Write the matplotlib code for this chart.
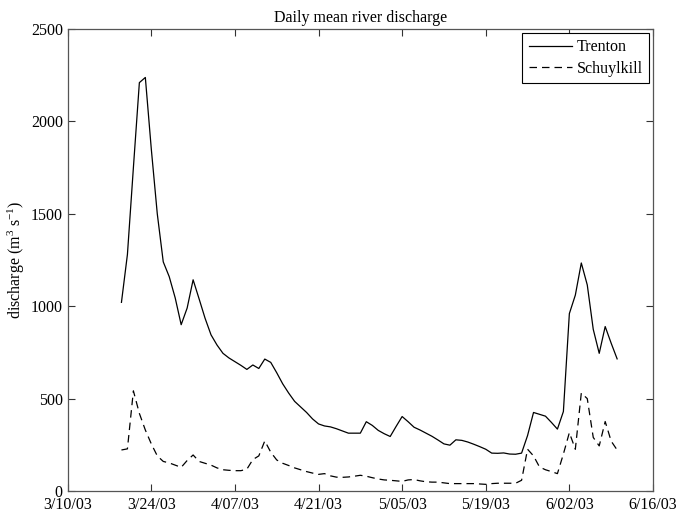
import matplotlib
matplotlib.use("Agg")
import matplotlib.pyplot as plt
import matplotlib.dates as mdates
from matplotlib.ticker import FuncFormatter
import datetime as dt

# daily values, 3/19/03 .. 6/10/03
start = dt.date(2003, 3, 19)
trenton = [1021, 1280, 1750, 2210, 2238, 1850, 1500, 1240, 1160, 1045,
           900, 990, 1143, 1040, 935, 845, 790, 745, 720, 700,
           680, 658, 682, 663, 714, 696, 640, 580, 530, 485,
           455, 425, 390, 363, 352, 347, 337, 325, 313, 313,
           313, 375, 355, 328, 310, 295, 350, 403, 375, 345,
           330, 313, 296, 276, 255, 248, 277, 274, 265, 253,
           240, 226, 205, 204, 206, 200, 199, 205, 300, 425,
           415, 405, 371, 335, 430, 960, 1060, 1234, 1115, 875,
           745, 890, 800, 715]
schuylkill = [222, 228, 542, 420, 330, 255, 190, 160, 152, 140,
              128, 165, 195, 160, 150, 140, 125, 115, 112, 110,
              110, 118, 170, 190, 271, 210, 168, 150, 138, 125,
              115, 105, 97, 90, 94, 82, 75, 74, 76, 80,
              85, 80, 72, 65, 60, 58, 55, 52, 60, 62,
              55, 50, 48, 48, 44, 40, 40, 40, 40, 40,
              38, 36, 40, 42, 42, 42, 42, 58, 226, 190,
              130, 115, 105, 94, 200, 316, 226, 530, 500, 290,
              244, 376, 270, 222]
dates = [start + dt.timedelta(days=i) for i in range(len(trenton))]
tick_dates = [dt.date(2003, 3, 10) + dt.timedelta(days=14 * i) for i in range(8)]

plt.rcParams["font.family"] = "Liberation Serif"
plt.rcParams["mathtext.fontset"] = "custom"
plt.rcParams["mathtext.rm"] = "Liberation Serif"
plt.rcParams["mathtext.it"] = "Liberation Serif"

fig = plt.figure(figsize=(6.77, 5.15), dpi=100)
ax = fig.add_axes([0.1, 0.0466, 0.8645, 0.897])

ax.plot(dates, trenton, "k-", lw=0.9, label="Trenton")
ax.plot(dates, schuylkill, "k--", lw=0.9, dashes=(6, 4), label="Schuylkill")

ax.set_xlim(tick_dates[0], tick_dates[-1])
ax.set_ylim(0, 2500)
ax.set_xticks(tick_dates)
ax.xaxis.set_major_formatter(FuncFormatter(
    lambda v, p: "{d.month}/{d.day:02d}/{d:%y}".format(d=mdates.num2date(v))))
ax.set_yticks([0, 500, 1000, 1500, 2000, 2500])

ax.tick_params(direction="in", top=True, right=True, length=5, width=0.8,
               labelsize=11.5, colors="#333333", labelcolor="black")
ax.tick_params(axis="x", pad=4)
for s in ax.spines.values():
    s.set_color("#555555")
    s.set_linewidth(0.9)

ax.set_title("Daily mean river discharge", fontsize=11.5, pad=5)
ax.set_ylabel("discharge (m$^{3}$ s$^{-1}$)", fontsize=11.5, labelpad=3)

leg = ax.legend(loc="upper right", fontsize=11.5, fancybox=False,
                edgecolor="black", framealpha=1, handlelength=2.7,
                handletextpad=0.3, borderaxespad=0.25, labelspacing=0.35)
leg.get_frame().set_linewidth(0.8)

fig.savefig("out.png", dpi=100)
